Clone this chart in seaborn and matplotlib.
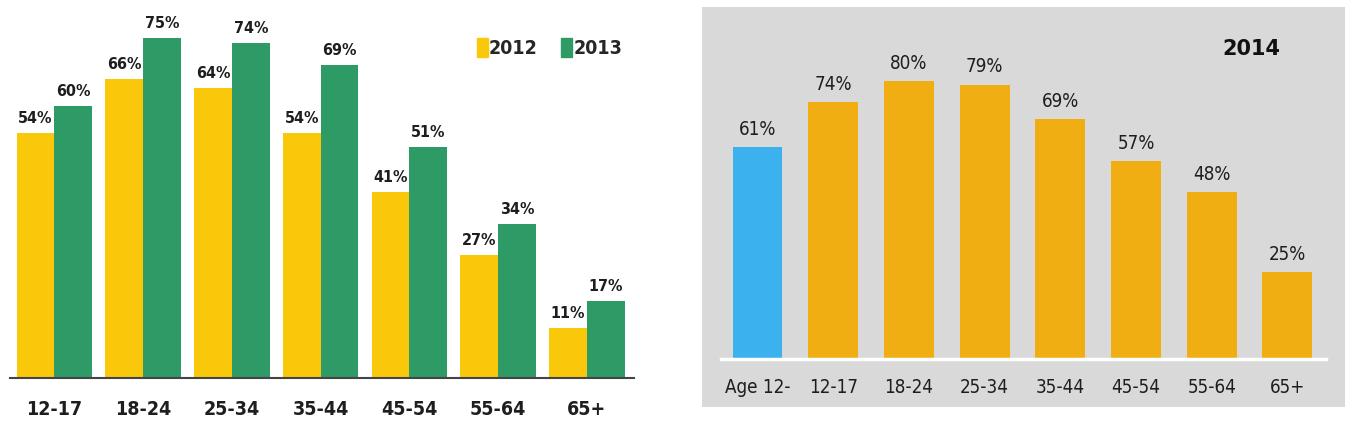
import matplotlib
matplotlib.use("Agg")
import matplotlib.pyplot as plt
import matplotlib.patches as mpatches
from matplotlib import font_manager
from matplotlib.font_manager import FontProperties
import seaborn as sns
import pandas as pd

# ---- data ----
age_groups_left = ["12-17", "18-24", "25-34", "35-44", "45-54", "55-64", "65+"]
values_2012 = [54, 66, 64, 54, 41, 27, 11]
values_2013 = [60, 75, 74, 69, 51, 34, 17]
years_left = ["2012", "2013"]

age_groups_right = ["Age 12-", "12-17", "18-24", "25-34", "35-44", "45-54", "55-64", "65+"]
values_2014 = [61, 74, 80, 79, 69, 57, 48, 25]
title_right = "2014"

# ---- style ----
sns.set_theme(style="white")
plt.rcParams["font.family"] = ["DejaVu Sans"]


def find_narrow(bold):
    cands = []
    for f in font_manager.fontManager.ttflist:
        fn = f.fname.lower()
        if ("narrow" in fn or "condensed" in fn) and "italic" not in fn and "oblique" not in fn:
            isbold = "bold" in fn
            if isbold != bold:
                continue
            if any(k in fn for k in ("semi", "extra", "light", "medium", "black", "thin")):
                continue
            pri = 3
            if "liberation" in fn:
                pri = 0
            elif "dejavu" in fn:
                pri = 1
            elif "roboto" in fn:
                pri = 2
            cands.append((pri, f.fname))
    if cands:
        cands.sort()
        return cands[0][1]
    return None


nb = find_narrow(True)
nr = find_narrow(False)


def fp_bold(size):
    if nb:
        return FontProperties(fname=nb, size=size)
    return FontProperties(family="DejaVu Sans", weight="bold", size=size * 0.82)


def fp_reg(size):
    if nr:
        return FontProperties(fname=nr, size=size)
    return FontProperties(family="DejaVu Sans", size=size * 0.82)


YELLOW = "#F9C80A"
GREEN = "#2E9A66"
ORANGE = "#F0AE12"
BLUE = "#3BB1EE"
GRAYBG = "#D9D9D9"
TXT = "#1E1E1E"

fig = plt.figure(figsize=(13.53, 4.37), dpi=100)
fig.patch.set_facecolor("white")

# ---------------- left panel ----------------
axL = fig.add_axes([10/1353, (437-377.7)/437, 624/1353, 377.7/437])
dfL = pd.DataFrame({
    "age": age_groups_left * 2,
    "value": values_2012 + values_2013,
    "year": [years_left[0]] * len(age_groups_left) + [years_left[1]] * len(age_groups_left),
})
sns.barplot(data=dfL, x="age", y="value", hue="year", order=age_groups_left,
            hue_order=years_left, palette=[YELLOW, GREEN], width=0.85, gap=0,
            saturation=1, edgecolor="none", linewidth=0, ax=axL)
axL.set_xlim(-0.5, 6.53)
axL.set_ylim(0, 83.4)
axL.set_xlabel("")
axL.set_ylabel("")
axL.set_yticks([])
for s in ["top", "right", "left"]:
    axL.spines[s].set_visible(False)
axL.spines["bottom"].set_color("#444444")
axL.spines["bottom"].set_linewidth(1.5)
axL.tick_params(axis="x", length=0, pad=16)
for lab in axL.get_xticklabels():
    lab.set_fontproperties(fp_bold(14))
    lab.set_color(TXT)
for cont in axL.containers:
    axL.bar_label(cont, labels=[f"{int(v)}%" for v in cont.datavalues],
                  padding=5, fontproperties=fp_bold(11.5), color=TXT)
handles = [mpatches.Patch(color=YELLOW), mpatches.Patch(color=GREEN)]
axL.legend(handles, years_left, loc="upper right", bbox_to_anchor=(1.0, 0.93),
           frameon=False, ncol=2, prop=fp_bold(14),
           handlelength=0.55, handleheight=1.1, handletextpad=0.08, columnspacing=1.2,
           borderaxespad=0.2)

# ---------------- right panel ----------------
fig.patches.append(mpatches.Rectangle((702/1353, (437-407)/437), 643/1353, 400/437,
                                      transform=fig.transFigure, facecolor=GRAYBG,
                                      edgecolor="none", zorder=-5))
axR = fig.add_axes([721/1353, (437-359)/437, 605/1353, 352/437])
axR.set_facecolor("none")
axR.set_zorder(2)
dfR = pd.DataFrame({"age": age_groups_right, "value": values_2014})
colorsR = [BLUE] + [ORANGE] * (len(age_groups_right) - 1)
sns.barplot(data=dfR, x="age", y="value", hue="age", order=age_groups_right,
            palette=colorsR, width=0.66, saturation=1, edgecolor="none",
            linewidth=0, legend=False, ax=axR)
axR.set_xlim(-0.482, 7.51)
axR.set_ylim(0, 101.4)
axR.set_xlabel("")
axR.set_ylabel("")
axR.set_yticks([])
for s in ["top", "right", "left"]:
    axR.spines[s].set_visible(False)
axR.spines["bottom"].set_color("white")
axR.spines["bottom"].set_linewidth(2.5)
axR.tick_params(axis="x", length=0, pad=14)
for lab in axR.get_xticklabels():
    lab.set_fontproperties(fp_reg(13.5))
    lab.set_color(TXT)
for cont in axR.containers:
    axR.bar_label(cont, labels=[f"{int(v)}%" for v in cont.datavalues],
                  padding=6, fontproperties=fp_reg(13.5), color=TXT)
axR.text(0.876, 0.88, title_right, transform=axR.transAxes, ha="center", va="center",
         fontsize=15, fontweight="bold", color="#111111", family="DejaVu Sans")

fig.savefig("out.png", dpi=100, facecolor="white")
